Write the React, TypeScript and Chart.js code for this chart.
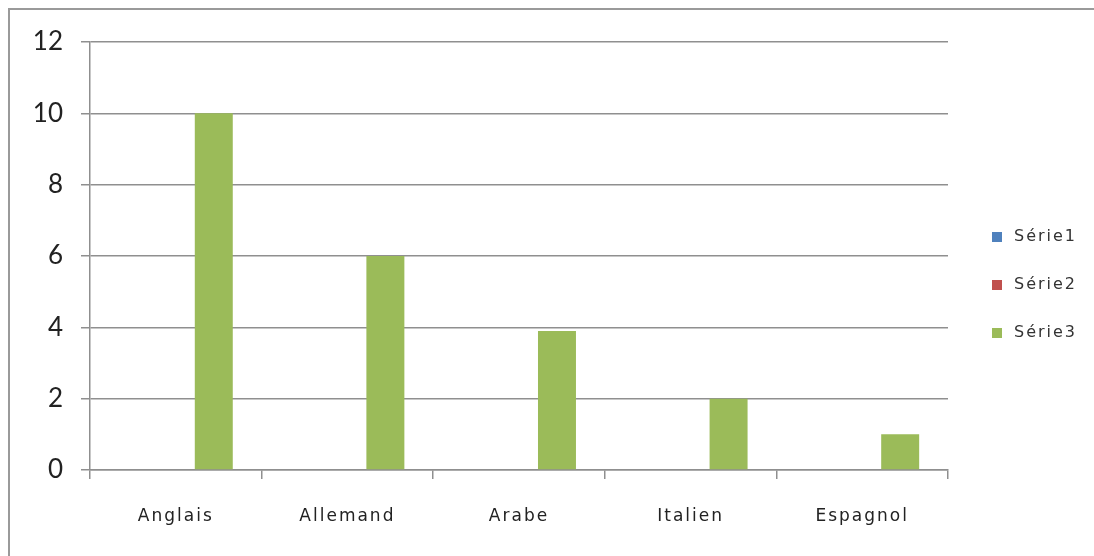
import React, { useEffect, useRef } from "react";
import { Chart, registerables } from "chart.js";

Chart.register(...registerables);

const categories = ["Anglais", "Allemand", "Arabe", "Italien", "Espagnol"];
const serie1 = [0, 0, 0, 0, 0];
const serie2 = [0, 0, 0, 0, 0];
const serie3 = [10, 6, 3.9, 2, 1];
const seriesNames = ["Série1", "Série2", "Série3"];
const seriesColors = ["#4F81BD", "#C0504D", "#9BBB59"];

const xSpacingPlugin = {
  id: "xSpacing",
  afterLayout(chart: any) {
    const sx = chart.scales.x;
    if (!sx || sx.__wrapped) return;
    const orig = sx.drawLabels;
    sx.drawLabels = function (area: any) {
      const ctx = this.ctx;
      ctx.save();
      ctx.letterSpacing = "2px";
      orig.call(this, area);
      ctx.restore();
    };
    sx.__wrapped = true;
  },
};

const legendPlugin = {
  id: "sideLegend",
  afterDraw(chart: any) {
    const ctx = chart.ctx;
    const x0 = chart.chartArea.right + 44;
    const yMid = (chart.chartArea.top + chart.chartArea.bottom) / 2 + 29;
    const gap = 48;
    ctx.save();
    ctx.letterSpacing = "2px";
    ctx.font = "16px 'DejaVu Sans'";
    ctx.textBaseline = "middle";
    seriesNames.forEach((name, i) => {
      const y = yMid + (i - 1) * gap;
      ctx.fillStyle = seriesColors[i];
      ctx.fillRect(x0, y - 5, 10, 10);
      ctx.fillStyle = "#333";
      ctx.fillText(name, x0 + 22, y);
    });
    ctx.restore();
  },
};

export default function App() {
  const ref = useRef<HTMLCanvasElement>(null);
  useEffect(() => {
    if (!ref.current) return;
    const chart = new Chart(ref.current, {
      type: "bar",
      data: {
        labels: categories,
        datasets: [
          { label: seriesNames[0], data: serie1, backgroundColor: seriesColors[0] },
          { label: seriesNames[1], data: serie2, backgroundColor: seriesColors[1] },
          { label: seriesNames[2], data: serie3, backgroundColor: seriesColors[2] },
        ],
      },
      options: {
        responsive: false,
        animation: false,
        devicePixelRatio: 1,
        datasets: { bar: { categoryPercentage: 0.664, barPercentage: 1 } },
        layout: { padding: { top: 42, right: 146, left: 0, bottom: 0 } },
        plugins: { legend: { display: false }, tooltip: { enabled: false } },
        scales: {
          x: {
            grid: {
              offset: true,
              drawOnChartArea: false,
              drawTicks: true,
              tickLength: 9,
              color: "#8f8f8f",
              lineWidth: 1.5,
            },
            border: { color: "#8f8f8f", width: 1.5 },
            ticks: {
              padding: 27,
              color: "#222",
              font: { family: "'DejaVu Sans'", size: 17 },
            },
            afterFit(scale: any) {
              scale.height = 86;
            },
          },
          y: {
            min: 0,
            max: 12,
            ticks: {
              stepSize: 2,
              padding: 18,
              color: "#222",
              font: { family: "'Liberation Sans Narrow', Lato", size: 26 },
            },
            grid: { color: "#8f8f8f", lineWidth: 1.5, tickLength: 9 },
            border: { color: "#8f8f8f", width: 1.5 },
            afterFit(scale: any) {
              scale.width = 90;
            },
          },
        },
      },
      plugins: [xSpacingPlugin, legendPlugin],
    });
    chart.draw();
    return () => chart.destroy();
  }, []);
  return (
    <div style={{ position: "fixed", left: 0, top: 0, width: 1094, height: 556, background: "#fff", overflow: "hidden" }}>
      <div
        style={{
          position: "absolute",
          left: 8,
          top: 8,
          width: 1100,
          height: 560,
          border: "2px solid #9a9a9a",
          boxSizing: "border-box",
        }}
      />
      <canvas ref={ref} width={1094} height={556} style={{ position: "absolute", left: 0, top: 0 }} />
    </div>
  );
}
